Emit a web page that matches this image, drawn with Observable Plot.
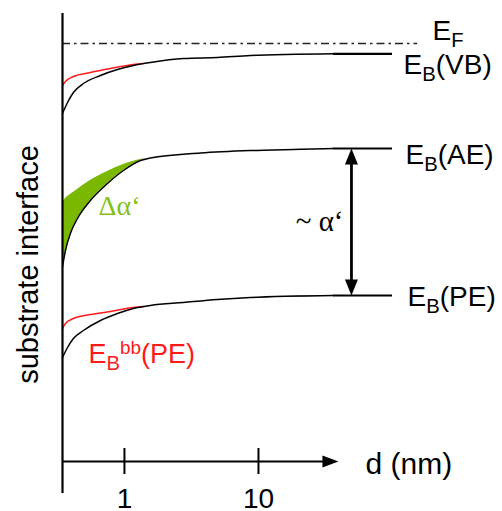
<!DOCTYPE html>
<html><head><meta charset="utf-8">
<script src="https://cdn.jsdelivr.net/npm/d3@7"></script>
<script src="https://cdn.jsdelivr.net/npm/@observablehq/plot@0.6"></script>
<style>body{margin:0;background:#fff}</style>
</head><body><div id="chart"></div>
<script>
// thickness d (nm), binding energy (arb. units, 0 = E_F, increasing downward)
const dStart = 0.345;
const dEnd = 100;
const levelStartD = 36.3;
const efEndD = 154;
const levelNames = ["E_{F}", "E_{B}(VB)", "E_{B}(AE)", "E_{B}(PE)"];
const levelE = [0, 1.03, 10.5, 25.2];

const vbD = [0.345, 0.376, 0.416, 0.494, 0.662, 0.887, 1.167, 1.563, 2.756, 4.94, 8.71, 36.3];
const vbE = [7.0, 5.9, 4.9, 4.0, 3.2, 2.6, 2.2, 1.9, 1.5, 1.4, 1.2, 1.03];
const vbRedD = [0.345, 0.363, 0.416, 0.557, 0.786, 1.167, 1.386];
const vbRedE = [4.2, 3.8, 3.3, 2.9, 2.5, 2.1, 2.0];

const aeD = [0.345, 0.363, 0.395, 0.446, 0.557, 0.747, 0.983, 1.316, 1.563, 3.69, 8.71, 20.6, 36.3];
const aeE = [22.3, 20.7, 19.0, 17.5, 15.7, 14.0, 12.7, 11.7, 11.45, 10.95, 10.7, 10.58, 10.5];
const aeUpperE = [15.9, 15.5, 15.1, 14.6, 13.7, 12.8, 12.1, 11.6, 11.45];

const peD = [0.345, 0.376, 0.416, 0.494, 0.662, 0.887, 1.167, 1.563, 2.756, 4.94, 8.71, 36.3];
const peE = [31.4, 30.4, 29.5, 28.7, 27.7, 27.0, 26.5, 26.2, 25.9, 25.6, 25.4, 25.2];
const peRedD = [0.345, 0.363, 0.416, 0.557, 0.786, 1.167, 1.386];
const peRedE = [28.5, 28.0, 27.5, 27.1, 26.8, 26.4, 26.3];

const xTicks = [1, 10];
const xTickLabels = ["1", "10"];
const arrowD = 49.4;
const axisE = 41.8;
const axisTipD = 39.5;

const zip = (xs, ys) => xs.map((d, i) => ({d, E: ys[i]}));
const vb = zip(vbD, vbE), vbRed = zip(vbRedD, vbRedE);
const ae = zip(aeD, aeE), pe = zip(peD, peE), peRed = zip(peRedD, peRedE);
const green = aeUpperE.map((u, i) => ({d: aeD[i], upper: u, lower: aeE[i]}));
const levels = levelNames.map((n, i) => ({name: n, E: levelE[i]}));

const head = (len, half, dir) => ({
  draw(ctx) {
    if (dir === "up") { ctx.moveTo(0, 0); ctx.lineTo(half, len); ctx.lineTo(-half, len); }
    else if (dir === "down") { ctx.moveTo(0, 0); ctx.lineTo(half, -len); ctx.lineTo(-half, -len); }
    else { ctx.moveTo(0, 0); ctx.lineTo(-len, half); ctx.lineTo(-len, -half); }
    ctx.closePath();
  }
});

const sans = "Liberation Sans, Arial, Helvetica, sans-serif";
const serif = "Liberation Serif, Times New Roman, serif";

const lineOpts = {x: "d", y: "E", curve: "monotone-x", strokeWidth: 1.5};

const svg = Plot.plot({
  width: 502, height: 511,
  style: {fontFamily: sans, background: "#fff"},
  x: {type: "log", domain: [dStart, dEnd], range: [62, 392], axis: null},
  y: {domain: [0, 45], range: [43, 493], axis: null},
  marks: [
    Plot.areaY(green, {x: "d", y1: "upper", y2: "lower", fill: "#7ab800", curve: "monotone-x"}),
    Plot.line(vbRed, {...lineOpts, stroke: "#ff1a1a"}),
    Plot.line(peRed, {...lineOpts, stroke: "#ff1a1a"}),
    Plot.line(vb, {...lineOpts, stroke: "black"}),
    Plot.line(ae, {...lineOpts, stroke: "black"}),
    Plot.line(pe, {...lineOpts, stroke: "black"}),
    Plot.ruleY(levels.slice(1), {y: "E", x1: levelStartD, x2: dEnd, stroke: "black", strokeWidth: 2.2}),
    Plot.ruleY(levels.slice(0, 1), {y: "E", x1: dStart, x2: efEndD, stroke: "#222", strokeWidth: 1.4, strokeDasharray: "8,4,2.5,4"}),
    // substrate interface / axes
    Plot.ruleX([dStart], {y1: -3.0, y2: 45, stroke: "black", strokeWidth: 2.2}),
    Plot.ruleY([axisE], {x1: dStart, x2: 31, stroke: "black", strokeWidth: 2.2}),
    Plot.dot([{d: axisTipD, E: axisE}], {x: "d", y: "E", symbol: head(16, 6, "right"), fill: "black", stroke: "none", r: 5}),
    Plot.ruleX(xTicks, {y1: 40.5, y2: 43.1, stroke: "black", strokeWidth: 2}),
    Plot.text(xTicks, {x: d => d, y: 46.45, text: (d, i) => xTickLabels[i], fontSize: 28, textAnchor: "middle", lineAnchor: "bottom", fill: "black"}),
    Plot.text(["d (nm)"], {x: 62.9, y: 43.0, text: d => d, fontSize: 30, textAnchor: "start", lineAnchor: "bottom", fill: "black"}),
    Plot.text(["substrate interface"], {x: 0.228, y: 22.1, text: d => d, rotate: -90, fontSize: 29, textAnchor: "middle", lineAnchor: "bottom", fill: "black"}),
    // double arrow ~ alpha'
    Plot.ruleX([arrowD], {y1: levelE[2] + 1.2, y2: levelE[3] - 1.2, stroke: "black", strokeWidth: 2.8}),
    Plot.dot([{d: arrowD, E: levelE[2]}], {x: "d", y: "E", symbol: head(16, 6.5, "up"), fill: "black", stroke: "none", r: 5}),
    Plot.dot([{d: arrowD, E: levelE[3]}], {x: "d", y: "E", symbol: head(16, 6.5, "down"), fill: "black", stroke: "none", r: 5}),
    Plot.text(["~ α‘"], {x: 43.1, y: 18.7, text: d => d, fontFamily: serif, fontSize: 29, textAnchor: "end", lineAnchor: "bottom", fill: "black"}),
    Plot.text(["Δα‘"], {x: 0.64, y: 17.1, text: d => d, fontFamily: serif, fontSize: 28, textAnchor: "start", lineAnchor: "bottom", fill: "#84c01a"}),
    Plot.text(["E_{B}^{bb}(PE)"], {x: 0.539, y: 31.9, text: d => d, fontSize: 27, textAnchor: "start", lineAnchor: "bottom", fill: "#ff1a1a"}),
    // level labels
    Plot.text(levels, {x: [198.8, 120.8, 125, 129.4], y: [-0.4, 3.05, 12.0, 26.2], text: "name", fontSize: 28, textAnchor: "start", lineAnchor: "bottom", fill: "black"})
  ]
});

// rich text: _{sub} and ^{sup}
svg.querySelectorAll("text").forEach(t => {
  const s = t.textContent;
  if (!/[_^]\{/.test(s)) return;
  const fs = parseFloat(t.getAttribute("font-size") || getComputedStyle(t).fontSize) || 27;
  t.textContent = "";
  const re = /([_^])\{([^}]*)\}|([^_^]+)/g;
  let m, cur = 0;
  while ((m = re.exec(s))) {
    const ts = document.createElementNS("http://www.w3.org/2000/svg", "tspan");
    let target = 0, txt = m[3];
    if (m[1] === "_") { target = fs * 0.26; txt = m[2]; ts.setAttribute("font-size", fs * 0.75); }
    else if (m[1] === "^") { target = -fs * 0.3; txt = m[2]; ts.setAttribute("font-size", fs * 0.7); }
    if (target !== cur) ts.setAttribute("dy", target - cur);
    cur = target;
    ts.textContent = txt;
    t.appendChild(ts);
  }
});
document.getElementById("chart").appendChild(svg);
</script>
</body></html>
